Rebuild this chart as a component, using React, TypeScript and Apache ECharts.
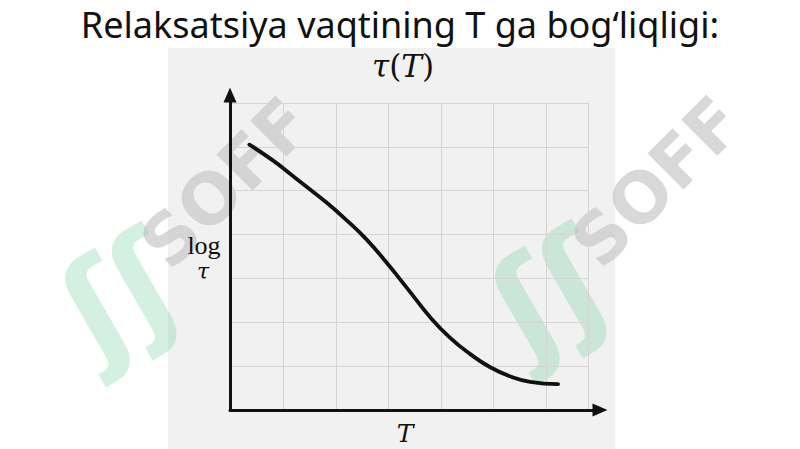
import React, { useEffect, useRef } from "react";
import * as echarts from "echarts";

const titleText = "Relaksatsiya vaqtining T ga bog‘liqligi:";
const yLabelLines = ["log", "τ"];
const xLabel = "T";
const curveT = [0.35, 0.81, 1.12, 1.44, 1.82, 2.2, 2.58, 2.97, 3.38, 3.79, 4.17, 4.55, 4.93, 5.31, 5.7, 6.23];
const curveLogTau = [6.05, 5.68, 5.39, 5.09, 4.73, 4.33, 3.89, 3.35, 2.74, 2.12, 1.65, 1.28, 0.98, 0.77, 0.64, 0.59];
const watermarkText = "SOFF";

export default function App() {
  const ref = useRef<HTMLDivElement>(null);
  useEffect(() => {
    document.body.style.margin = "0";
    const chart = echarts.init(ref.current!, null, { renderer: "svg" });
    const data = curveT.map((t, i) => [t, curveLogTau[i]]);
    const wm = (x: number, y: number, lx: number, ly: number) => [
      {
        type: "text",
        x,
        y,
        rotation: Math.PI / 4,
        z: -5,
        style: {
          text: watermarkText,
          fontSize: 70,
          fontWeight: "bold",
          fontFamily: "DejaVu Sans",
          fill: "rgba(200,200,200,0.7)",
          align: "center",
          verticalAlign: "middle",
        },
      },
      {
        type: "text",
        x: lx,
        y: ly,
        rotation: Math.PI / 6,
        z: -5,
        style: {
          text: "ʃʃ",
          fontSize: 130,
          fontWeight: "bold",
          fontFamily: "DejaVu Sans",
          fill: "rgba(120,210,165,0.33)",
          align: "center",
          verticalAlign: "middle",
        },
      },
    ];
    chart.setOption({
      animation: false,
      backgroundColor: "#ffffff",
      title: [
        {
          text: titleText,
          left: "center",
          top: 1,
          textStyle: { fontFamily: "Noto Sans", fontSize: 36, fontWeight: "normal", color: "#111" },
        },
      ],
      graphic: [
        { type: "rect", z: -10, shape: { x: 168, y: 48, width: 447, height: 401 }, style: { fill: "#f1f1f1" } },
        ...wm(226, 183, 120, 295),
        ...wm(657, 182, 550, 293),
        {
          type: "text",
          x: 403,
          y: 66,
          z: 5,
          style: {
            text: "{i|τ}{u|(}{i|T}{u|)}",
            align: "center",
            verticalAlign: "middle",
            rich: {
              i: { fontFamily: "DejaVu Serif", fontStyle: "italic", fontSize: 31, fill: "#111" },
              u: { fontFamily: "DejaVu Serif", fontSize: 31, fill: "#111" },
            },
          },
        },
        {
          type: "text",
          x: 204,
          y: 245,
          z: 5,
          style: { text: yLabelLines[0], fontFamily: "Liberation Serif", fontSize: 26, fill: "#111", align: "center", verticalAlign: "middle" },
        },
        {
          type: "text",
          x: 203,
          y: 271,
          z: 5,
          style: { text: yLabelLines[1], fontFamily: "DejaVu Serif", fontStyle: "italic", fontSize: 22, fill: "#111", align: "center", verticalAlign: "middle" },
        },
        {
          type: "text",
          x: 405,
          y: 433,
          z: 5,
          style: { text: xLabel, fontFamily: "DejaVu Serif", fontStyle: "italic", fontSize: 25, fill: "#111", align: "center", verticalAlign: "middle" },
        },
      ],
      grid: [
        { left: 231, right: 212, top: 103, bottom: 39 },
        { left: 230, right: 200, top: 95, bottom: 39 },
      ],
      xAxis: [
        {
          gridIndex: 0,
          type: "value",
          min: 0,
          max: 6.8,
          interval: 1,
          axisLine: { show: false },
          axisTick: { show: false },
          axisLabel: { show: false },
          splitLine: { show: true, lineStyle: { color: "#d5d5d5", width: 1 } },
        },
        {
          gridIndex: 1,
          type: "value",
          min: 0,
          max: 1,
          axisLine: { show: true, symbol: ["none", "triangle"], symbolSize: [13, 15], lineStyle: { color: "#111", width: 3 } },
          axisTick: { show: false },
          axisLabel: { show: false },
          splitLine: { show: false },
        },
      ],
      yAxis: [
        {
          gridIndex: 0,
          type: "value",
          min: 0,
          max: 7,
          interval: 1,
          axisLine: { show: false },
          axisTick: { show: false },
          axisLabel: { show: false },
          splitLine: { show: true, lineStyle: { color: "#d5d5d5", width: 1 } },
        },
        {
          gridIndex: 1,
          type: "value",
          min: 0,
          max: 1,
          axisLine: { show: true, symbol: ["none", "triangle"], symbolSize: [13, 15], lineStyle: { color: "#111", width: 3 } },
          axisTick: { show: false },
          axisLabel: { show: false },
          splitLine: { show: false },
        },
      ],
      series: [
        {
          type: "line",
          xAxisIndex: 0,
          yAxisIndex: 0,
          data,
          smooth: true,
          showSymbol: false,
          symbol: "none",
          z: 10,
          lineStyle: { color: "#111", width: 3.8, cap: "round" },
        },
      ],
    });
    return () => chart.dispose();
  }, []);
  return <div ref={ref} style={{ width: 800, height: 449 }} />;
}
